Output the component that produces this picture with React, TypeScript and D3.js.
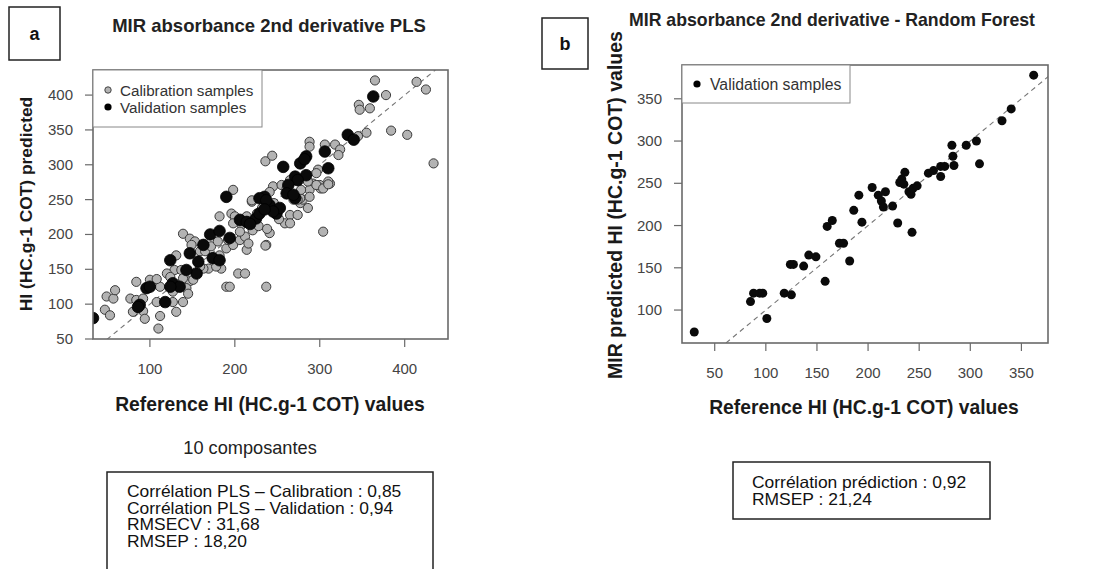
import React from "react";
import * as d3 from "d3";

// Panel a: PLS calibration samples [reference, predicted]
const calRef = [365,378,414,425,346,347,359,355,384,403,434,345,288,288,306,318,324,322,236,244,298,296,312,310,292,300,198,220,196,182,139,147,153,131,129,120,147,151,143,145,127,112,100,108,84,77,84,92,80,92,94,108,112,110,131,127,139,49,57,59,47,53,190,204,182,184,169,190,198,206,212,214,221,208,200,214,224,226,159,163,198,206,216,237,241,237,259,265,274,286,304,269,277,280,288,301,236,265,277,296,304,310,220,245,255,265,278,274,288,241,284,286,261,149,165,172,180,192,178,159,137,139,124,232,246,252,228,238,212,194];
const calPred = [421,400,419,408,386,379,381,346,349,343,302,341,333,326,329,329,322,314,305,313,293,288,273,276,273,271,264,247,230,226,201,194,190,170,149,144,133,135,123,115,118,125,135,136,132,108,106,108,89,90,79,103,83,65,89,103,103,111,108,120,92,84,125,144,170,151,151,180,185,192,197,178,206,214,226,226,223,230,176,151,216,204,187,185,202,125,216,228,228,238,204,250,245,250,264,266,184,216,252,271,266,272,249,269,271,278,264,250,254,261,283,276,266,185,176,183,190,192,154,154,149,137,139,238,245,222,212,208,144,125];

// Panel a: PLS validation samples
const valRef = [363,333,340,306,284,277,282,257,310,284,271,274,263,190,235,229,206,214,225,241,249,253,261,271,171,182,194,163,174,182,147,157,155,143,124,127,135,124,96,100,118,88,86,33,269,237,245,229,235,218];
const valPred = [398,343,336,319,312,302,308,297,295,285,283,278,271,254,254,252,221,218,223,242,230,238,259,252,200,205,195,185,166,163,173,161,144,149,163,130,125,125,123,125,103,99,96,80,257,249,233,230,236,215];

// Panel b: Random Forest validation samples
const rfRef = [30,85,88,94,97,101,118,125,124,127,137,142,149,158,160,165,172,176,182,186,194,191,204,210,213,215,217,224,229,243,231,233,235,236,240,242,244,248,259,264,271,271,275,283,284,282,296,306,309,331,340,362];
const rfPred = [74,110,120,120,120,90,120,118,154,154,152,165,163,134,199,206,179,179,158,218,204,236,245,236,229,222,240,223,203,192,251,255,249,263,240,237,244,247,262,265,258,270,270,282,271,295,295,300,273,324,338,378];

const ticksAX = [100, 200, 300, 400];
const ticksAY = [50, 100, 150, 200, 250, 300, 350, 400];
const ticksBX = [50, 100, 150, 200, 250, 300, 350];
const ticksBY = [100, 150, 200, 250, 300, 350];

const statsA = [
  "Corrélation PLS – Calibration : 0,85",
  "Corrélation PLS – Validation : 0,94",
  "RMSECV : 31,68",
  "RMSEP : 18,20",
];
const statsB = ["Corrélation prédiction : 0,92", "RMSEP : 21,24"];

const FONT = "'Liberation Sans', Arial, Helvetica, sans-serif";
const AXIS = "#6a6a6a";
const TICKTXT = "#444";

function Axes({ x, y, xt, yt, tickLen = 8 }: any) {
  const [x0, x1] = x.range();
  const [y0, y1] = y.range();
  return (
    <g>
      <rect x={x0} y={y1} width={x1 - x0} height={y0 - y1} fill="none" stroke={AXIS} strokeWidth={1.6} />
      {xt.map((t: number) => (
        <g key={"x" + t}>
          <line x1={x(t)} x2={x(t)} y1={y0} y2={y0 + tickLen} stroke={AXIS} strokeWidth={1.2} />
          <text x={x(t)} y={y0 + 35} textAnchor="middle" fontSize={15} fill={TICKTXT} fontFamily={FONT}>{t}</text>
        </g>
      ))}
      {yt.map((t: number) => (
        <g key={"y" + t}>
          <line x1={x0 - tickLen} x2={x0} y1={y(t)} y2={y(t)} stroke={AXIS} strokeWidth={1.2} />
          <text x={x0 - 20} y={y(t) + 5} textAnchor="end" fontSize={15} fill={TICKTXT} fontFamily={FONT}>{t}</text>
        </g>
      ))}
    </g>
  );
}

export default function App() {
  // Panel a scales
  const xa = d3.scaleLinear().domain([33, 451]).range([93, 448]);
  const ya = d3.scaleLinear().domain([50, 436]).range([339, 70]);
  // Panel b scales
  const xb = d3.scaleLinear().domain([18, 376]).range([682, 1048]);
  const yb = d3.scaleLinear().domain([61, 390]).range([343, 65]);

  const line = (x: any, y: any, lo: number, hi: number) =>
    d3.line<number>().x((d) => x(d)).y((d) => y(d))([lo, hi]) as string;

  return (
    <svg width={1094} height={569} style={{ position: "absolute", left: 0, top: 0, background: "#fff" }} fontFamily={FONT}>
      <defs>
        <clipPath id="clipA"><rect x={93} y={70} width={355} height={269} /></clipPath>
        <clipPath id="clipB"><rect x={682} y={65} width={366} height={278} /></clipPath>
      </defs>
      <rect width={1094} height={569} fill="#fff" />

      {/* Panel a */}
      <rect x={9} y={7} width={51} height={53} fill="none" stroke="#222" strokeWidth={1.5} />
      <text x={34.5} y={40} textAnchor="middle" fontSize={18} fontWeight="bold" fill="#111">a</text>
      <text x={269} y={32} textAnchor="middle" fontSize={18.5} fontWeight="bold" fill="#222">MIR absorbance 2nd derivative PLS</text>

      <g clipPath="url(#clipA)">
        <path d={line(xa, ya, 0, 460)} stroke="#777" strokeWidth={1.1} strokeDasharray="5,4" fill="none" />
        {calRef.map((r, i) => (
          <circle key={"c" + i} cx={xa(r)} cy={ya(calPred[i])} r={4.6} fill="#b3b3b3" stroke="#3a3a3a" strokeWidth={1} />
        ))}
        {valRef.map((r, i) => (
          <circle key={"v" + i} cx={xa(r)} cy={ya(valPred[i])} r={5.8} fill="#0a0a0a" stroke="#000" strokeWidth={0.8} />
        ))}
      </g>
      <Axes x={xa} y={ya} xt={ticksAX} yt={ticksAY} />

      <rect x={93} y={70} width={169} height={57} fill="#fff" stroke="#888" strokeWidth={1} />
      <circle cx={108} cy={90} r={3.2} fill="#b3b3b3" stroke="#444" strokeWidth={1} />
      <text x={120} y={95.5} fontSize={15.2} fill="#333">Calibration samples</text>
      <circle cx={108} cy={107} r={3.6} fill="#000" />
      <text x={120} y={112.5} fontSize={15.2} fill="#333">Validation samples</text>

      <text transform="translate(31.5,204) rotate(-90)" textAnchor="middle" fontSize={17.4} fontWeight="bold" fill="#1a1a1a">HI (HC.g-1 COT) predicted</text>
      <text x={270} y={411} textAnchor="middle" fontSize={19.3} fontWeight="bold" fill="#1a1a1a">Reference HI (HC.g-1 COT) values</text>

      <text x={250} y={454} textAnchor="middle" fontSize={18.2} fill="#222">10 composantes</text>
      <rect x={107} y={472} width={326} height={110} fill="none" stroke="#222" strokeWidth={1.5} />
      <g transform="translate(127,0) scale(1.07,1)">
        {statsA.map((s, i) => (
          <text key={s} x={0} y={497 + i * 16.6} fontSize={16.3} fill="#111">{s}</text>
        ))}
      </g>

      {/* Panel b */}
      <rect x={542} y={18} width={46} height={51} fill="none" stroke="#222" strokeWidth={1.5} />
      <text x={565} y={50} textAnchor="middle" fontSize={18} fontWeight="bold" fill="#111">b</text>
      <text x={832} y={26} textAnchor="middle" fontSize={17.7} fontWeight="bold" fill="#222">MIR absorbance 2nd derivative - Random Forest</text>

      <g clipPath="url(#clipB)">
        <path d={line(xb, yb, 0, 400)} stroke="#777" strokeWidth={1.1} strokeDasharray="5,4" fill="none" />
        {rfRef.map((r, i) => (
          <circle key={"b" + i} cx={xb(r)} cy={yb(rfPred[i])} r={4.5} fill="#0a0a0a" />
        ))}
      </g>
      <Axes x={xb} y={yb} xt={ticksBX} yt={ticksBY} />

      <rect x={682} y={65} width={168} height={38} fill="#fff" stroke="#888" strokeWidth={1} />
      <circle cx={697} cy={84} r={3.6} fill="#000" />
      <text x={710} y={89.5} fontSize={15.8} fill="#333">Validation samples</text>

      <text transform="translate(622,205) rotate(-90)" textAnchor="middle" fontSize={19.5} fontWeight="bold" fill="#1a1a1a">MIR predicted HI (HC.g-1 COT) values</text>
      <text x={864} y={414} textAnchor="middle" fontSize={19.3} fontWeight="bold" fill="#1a1a1a">Reference HI (HC.g-1 COT) values</text>

      <rect x={733} y={462} width={257} height={57} fill="none" stroke="#222" strokeWidth={1.5} />
      <g transform="translate(752,0) scale(1.07,1)">
        {statsB.map((s, i) => (
          <text key={s} x={0} y={488 + i * 16.6} fontSize={16.3} fill="#111">{s}</text>
        ))}
      </g>
    </svg>
  );
}
